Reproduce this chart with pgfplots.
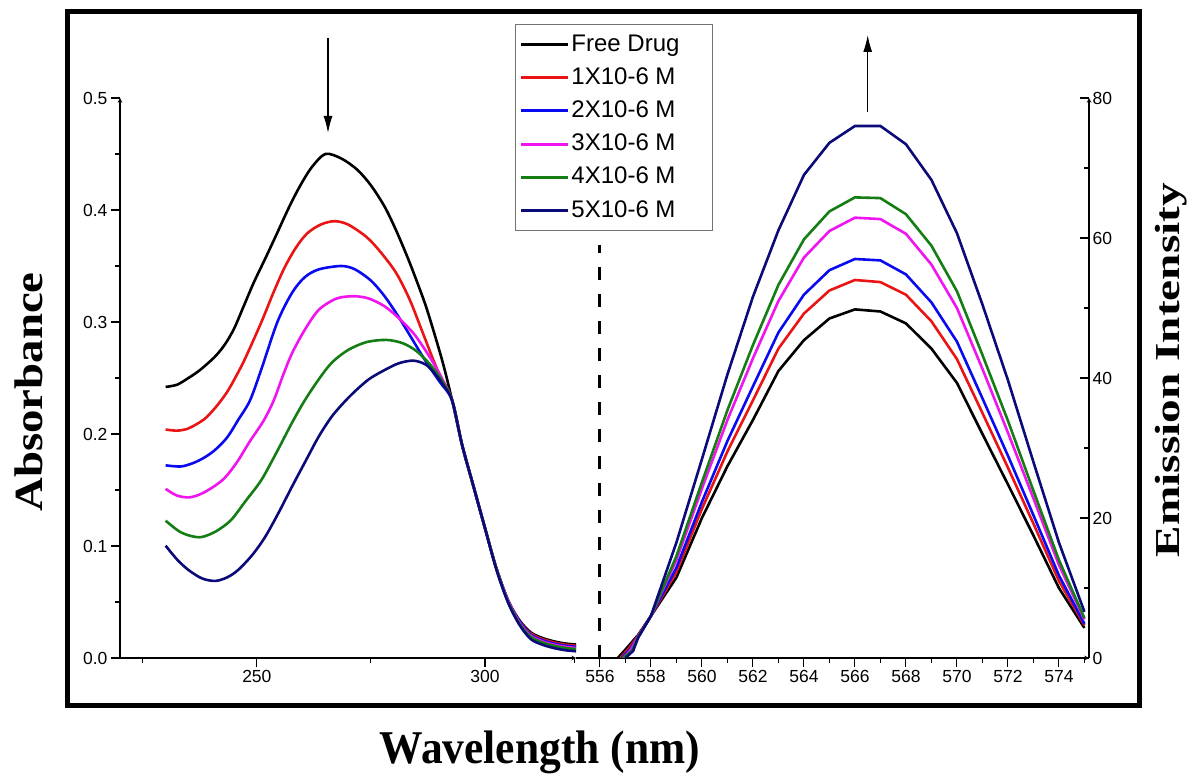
\documentclass[border=0pt]{standalone}
\usepackage{fontspec}
\setmainfont{Liberation Sans}
\newfontfamily\labfont{Liberation Serif}
\usepackage{graphicx}
\usepackage{pgfplots}
\pgfplotsset{compat=1.18}
\usetikzlibrary{arrows.meta}
\definecolor{cRed}{RGB}{235,20,20}
\definecolor{cBlue}{RGB}{10,10,240}
\definecolor{cMag}{RGB}{240,20,240}
\definecolor{cGreen}{RGB}{20,125,20}
\definecolor{cNavy}{RGB}{10,10,120}
\pgfplotsset{
  common/.style={
    scale only axis, height=560pt,
    axis line style={line width=1.1pt,-},
    every tick/.style={black,line width=1.1pt},
    major tick length=9pt, minor tick length=5pt,
    tick label style={font=\fontsize{17.5}{19}\selectfont},
    /pgf/number format/assume math mode=true,
    axis x line=bottom,
    xtick align=outside,
    ymin=0,
  }
}
\begin{document}
\begin{tikzpicture}
\path[use as bounding box] (0pt,0pt) rectangle (1190pt,773pt);
\draw[line width=5pt] (67pt,761pt) rectangle (1139pt,67pt);

% ---------- Left: absorbance ----------
\begin{axis}[common,
  at={(120pt,115pt)}, anchor=south west, width=456.2pt,
  xmin=220, xmax=320, ymax=0.5,
  axis y line=left, ytick align=outside,
  xtick={250,300}, minor xtick={225,275,319.6},
  ytick={0,0.1,0.2,0.3,0.4,0.5}, minor ytick={0.05,0.15,0.25,0.35,0.45},
  yticklabel style={/pgf/number format/.cd,fixed,fixed zerofill,precision=1},
  legend style={at={(0.866,1.132)}, anchor=north west, draw=black!55, line width=0.8pt,
    fill=white, inner xsep=4pt, inner ysep=3.5pt,
    font=\fontsize{24}{26}\selectfont, cells={anchor=west},
    nodes={inner xsep=2pt, inner ysep=3.8pt, text height=19.3pt, text depth=6.3pt}},
  legend image code/.code={\draw[#1, line width=3pt] (0pt,0pt) -- (47pt,0pt);},
]
\addplot[black, line width=2.6pt, smooth] coordinates {
(230,0.242)(232.5,0.244)(235,0.25)(237.5,0.257)(240.8,0.269)(243,0.28)(245,0.294)(247,0.313)(249.3,0.335)(252,0.358)(254.4,0.379)(257,0.402)(259.4,0.421)(262,0.438)(265,0.45)(268.5,0.446)(272,0.436)(275,0.422)(278,0.403)(280.5,0.382)(283,0.358)(285,0.337)(287.3,0.311)(290.6,0.266)(292.8,0.23)(295,0.19)(297.5,0.153)(300,0.116)(302.5,0.08)(305,0.052)(307.5,0.034)(310,0.023)(312.5,0.018)(315,0.015)(317.5,0.013)(320,0.012)};
\addlegendentry{\makebox[135pt][l]{Free Drug}}
\addplot[cRed, line width=2.6pt, smooth] coordinates {
(230,0.204)(232.5,0.203)(235,0.205)(238.4,0.213)(241,0.224)(243.4,0.237)(245.5,0.252)(247.5,0.268)(251,0.30)(253.5,0.325)(256,0.348)(258.5,0.366)(261,0.379)(264,0.387)(267,0.39)(270,0.387)(274,0.376)(277,0.363)(280.5,0.344)(283.5,0.32)(286.4,0.29)(289.5,0.258)(292.8,0.23)(295,0.19)(297.5,0.153)(300,0.116)(302.5,0.08)(305,0.052)(307.5,0.033)(310,0.022)(312.5,0.017)(315,0.014)(317.5,0.012)(320,0.011)};
\addlegendentry{1X10-6 M}
\addplot[cBlue, line width=2.6pt, smooth] coordinates {
(230,0.172)(233.3,0.171)(236,0.174)(238.5,0.179)(240.9,0.186)(243.5,0.197)(245.9,0.2125)(248.5,0.23)(251,0.258)(254.5,0.3)(257.7,0.326)(260.5,0.34)(263.6,0.347)(268.5,0.35)(271.5,0.347)(275,0.337)(278,0.323)(281,0.305)(284,0.285)(287,0.265)(290,0.247)(292.8,0.23)(295,0.19)(297.5,0.153)(300,0.116)(302.5,0.08)(305,0.052)(307.5,0.033)(310,0.021)(312.5,0.016)(315,0.013)(317.5,0.011)(320,0.010)};
\addlegendentry{2X10-6 M}
\addplot[cMag, line width=2.6pt, smooth] coordinates {
(230,0.151)(232.5,0.145)(235.4,0.1435)(238.5,0.148)(242.5,0.159)(245.5,0.174)(248.4,0.193)(251.5,0.212)(253.7,0.23)(255.7,0.252)(257.7,0.272)(260.5,0.293)(263.6,0.311)(267.5,0.321)(271.3,0.323)(274.5,0.321)(278,0.314)(281.5,0.302)(284.7,0.288)(288,0.268)(290.5,0.25)(292.8,0.23)(295,0.19)(297.5,0.153)(300,0.116)(302.5,0.08)(305,0.052)(307.5,0.032)(310,0.02)(312.5,0.015)(315,0.012)(317.5,0.010)(320,0.009)};
\addlegendentry{3X10-6 M}
\addplot[cGreen, line width=2.6pt, smooth] coordinates {
(230,0.1226)(233,0.113)(235.5,0.109)(237.9,0.108)(241,0.113)(244.3,0.123)(247.5,0.14)(251,0.159)(254.5,0.185)(257.7,0.21)(260.5,0.23)(263.6,0.249)(266.5,0.264)(270,0.275)(274,0.282)(278.4,0.284)(282,0.281)(285,0.274)(288,0.262)(290.5,0.248)(292.8,0.23)(295,0.19)(297.5,0.153)(300,0.116)(302.5,0.08)(305,0.051)(307.5,0.031)(310,0.019)(312.5,0.014)(315,0.011)(317.5,0.009)(320,0.008)};
\addlegendentry{4X10-6 M}
\addplot[cNavy, line width=2.6pt, smooth] coordinates {
(230,0.1003)(232.5,0.088)(235,0.0786)(238,0.071)(240.9,0.0688)(243.5,0.072)(245.9,0.0786)(249,0.092)(251.8,0.108)(254.8,0.13)(257.7,0.153)(260.7,0.176)(263.6,0.198)(266.5,0.216)(269.5,0.23)(272,0.24)(274.6,0.249)(277.5,0.256)(281,0.263)(284.3,0.2655)(287,0.262)(289,0.254)(290.8,0.244)(292.8,0.23)(295,0.19)(297.5,0.153)(300,0.116)(302.5,0.079)(305,0.05)(307.5,0.03)(310,0.017)(312.5,0.012)(315,0.009)(317.5,0.007)(320,0.006)};
\addlegendentry{5X10-6 M}
\end{axis}

% ---------- Right: emission ----------
\begin{axis}[common,
  at={(576.2pt,115pt)}, anchor=south west, width=512.8pt,
  xmin=555.07, xmax=575.18, ymax=80,
  axis y line=right, ytick align=inside,
  xtick={556,558,...,574}, minor xtick={557,559,...,575},
  ytick={0,20,40,60,80}, minor ytick={10,30,50,70},
]
\draw[black, line width=3pt, dash pattern=on 13pt off 14pt] (axis cs:556,0) -- (axis cs:556,59);
\addplot[black, line width=2.6pt] coordinates {
(556.7,0)(557,1.2)(557.5,3.3)(558,6.0)(559,11.5)(560,20)(561,27.4)(562,34)(563,41)(564,45.4)(565,48.5)(566,49.8)(567,49.5)(568,47.8)(569,44.2)(570,39.3)(571,32)(572,24.8)(573,17.5)(574,10)(575,4.3)};
\addplot[cRed, line width=2.6pt] coordinates {
(556.8,0)(557.1,1.2)(557.5,3.2)(558,6.0)(559,12.3)(560,21.3)(561,29.5)(562,36.8)(563,44.2)(564,49.2)(565,52.5)(566,54.0)(567,53.7)(568,51.9)(569,48.1)(570,42.7)(571,35.0)(572,27.2)(573,19.2)(574,11.0)(575,4.7)};
\addplot[cBlue, line width=2.6pt] coordinates {
(556.85,0)(557.15,1.1)(557.5,3.1)(558,6.0)(559,12.9)(560,22.3)(561,31.0)(562,38.8)(563,46.5)(564,51.9)(565,55.4)(566,57.0)(567,56.8)(568,54.8)(569,50.8)(570,45.2)(571,37.1)(572,28.9)(573,20.4)(574,11.8)(575,4.9)};
\addplot[cMag, line width=2.6pt] coordinates {
(556.9,0)(557.2,1.1)(557.5,3.1)(558,6.0)(559,14.0)(560,24.2)(561,34.0)(562,42.8)(563,51.0)(564,57.2)(565,61.0)(566,62.9)(567,62.7)(568,60.6)(569,56.2)(570,50.0)(571,41.3)(572,32.2)(573,22.8)(574,13.3)(575,5.5)};
\addplot[cGreen, line width=2.6pt] coordinates {
(556.9,0)(557.25,1.0)(557.5,3.0)(558,6.0)(559,14.55)(560,25.1)(561,35.4)(562,44.7)(563,53.3)(564,59.8)(565,63.8)(566,65.8)(567,65.7)(568,63.4)(569,58.9)(570,52.4)(571,43.3)(572,33.9)(573,23.9)(574,14.0)(575,5.7)};
\addplot[cNavy, line width=2.6pt] coordinates {
(557.0,0)(557.3,1.0)(557.5,2.9)(558,6.0)(559,16.5)(560,28.4)(561,40.5)(562,51.6)(563,61.1)(564,69)(565,73.6)(566,76)(567,76)(568,73.4)(569,68.3)(570,60.7)(571,50.5)(572,39.7)(573,28)(574,16.5)(575,6.6)};
\end{axis}

% arrows
\draw[line width=1.3pt, -{Latex[length=17pt,width=9pt]}] (328pt,735pt) -- (328pt,640pt);
\draw[line width=1.3pt, -{Latex[length=17pt,width=9pt]}] (867.7pt,661pt) -- (867.7pt,738pt);

% axis titles
\node[rotate=90] at (29pt,381pt) {\scalebox{1.17}[1]{\fontsize{40}{40}\selectfont\labfont\bfseries Absorbance}};
\node[rotate=90] at (1171pt,403pt) {\scalebox{1.35}[1]{\fontsize{35}{35}\selectfont\labfont\bfseries Emission Intensity}};
\node[anchor=base] at (540pt,10pt) {\scalebox{0.925}[1]{\fontsize{47}{47}\selectfont\labfont\bfseries Wavelength (nm)}};
\end{tikzpicture}
\end{document}
